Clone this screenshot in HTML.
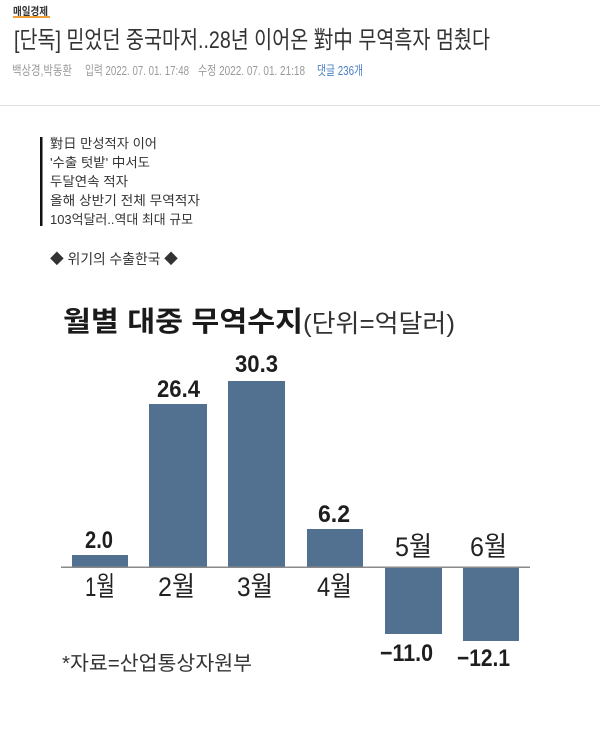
<!DOCTYPE html>
<html><head><meta charset="utf-8"><style>
html,body{margin:0;padding:0;background:#fff;}
svg{display:block;}
</style></head><body>
<svg width="600" height="729" viewBox="0 0 600 729" xmlns="http://www.w3.org/2000/svg" font-family="'Liberation Sans','Noto Sans CJK KR',sans-serif">
<rect width="600" height="729" fill="#fff"/>
<!-- header -->
<text x="13" y="15" font-size="11" font-weight="bold" fill="#333" textLength="35" lengthAdjust="spacingAndGlyphs">매일경제</text>
<rect x="13" y="16" width="37" height="2" fill="#f0a03a"/>
<text x="14" y="48" font-size="24" fill="#333" textLength="476" lengthAdjust="spacingAndGlyphs">[단독] 믿었던 중국마저..28년 이어온 對中 무역흑자 멈췄다</text>
<g font-size="13" fill="#9a9a9a">
<text x="12" y="75" textLength="60" lengthAdjust="spacingAndGlyphs">백상경,박동환</text>
<text x="85" y="75" textLength="104" lengthAdjust="spacingAndGlyphs">입력 2022. 07. 01. 17:48</text>
<text x="198" y="75" textLength="107" lengthAdjust="spacingAndGlyphs">수정 2022. 07. 01. 21:18</text>
<text x="317" y="75" fill="#4a7fc6" textLength="46" lengthAdjust="spacingAndGlyphs">댓글 236개</text>
</g>
<rect x="0" y="105" width="600" height="1" fill="#e3e3e3"/>
<!-- left block -->
<rect x="40" y="137" width="2.5" height="89" fill="#111"/>
<g font-size="13" fill="#333">
<text x="50" y="148" textLength="107" lengthAdjust="spacingAndGlyphs">對日 만성적자 이어</text>
<text x="50" y="167" textLength="100" lengthAdjust="spacingAndGlyphs">'수출 텃밭' 中서도</text>
<text x="50" y="186" textLength="78" lengthAdjust="spacingAndGlyphs">두달연속 적자</text>
<text x="50" y="205" textLength="150" lengthAdjust="spacingAndGlyphs">올해 상반기 전체 무역적자</text>
<text x="50" y="224" textLength="143" lengthAdjust="spacingAndGlyphs">103억달러..역대 최대 규모</text>
</g>
<text x="50" y="264" font-size="14" fill="#333" textLength="128" lengthAdjust="spacingAndGlyphs">◆ 위기의 수출한국 ◆</text>
<!-- chart title -->
<text x="63" y="331" font-size="28" font-weight="bold" fill="#1a1a1a" textLength="240" lengthAdjust="spacingAndGlyphs">월별 대중 무역수지</text>
<text x="303" y="332" font-size="25" fill="#333" textLength="152" lengthAdjust="spacingAndGlyphs">(단위=억달러)</text>
<!-- bars -->
<g fill="#52708f">
<rect x="72" y="555" width="56" height="12"/>
<rect x="149" y="404" width="58" height="163"/>
<rect x="228" y="381" width="57" height="186"/>
<rect x="307" y="529" width="56" height="38"/>
<rect x="385" y="567" width="57" height="67"/>
<rect x="463" y="567" width="56" height="74"/>
</g>
<rect x="61" y="566.5" width="469" height="1.5" fill="#8a8a8a"/>
<!-- values -->
<g font-size="24" font-weight="bold" fill="#1e1e1e" font-family="'Liberation Sans',sans-serif">
<text x="85" y="548" textLength="28" lengthAdjust="spacingAndGlyphs">2.0</text>
<text x="157" y="397" textLength="43" lengthAdjust="spacingAndGlyphs">26.4</text>
<text x="235" y="372" textLength="43" lengthAdjust="spacingAndGlyphs">30.3</text>
<text x="318" y="522" textLength="32" lengthAdjust="spacingAndGlyphs">6.2</text>
<text x="380" y="661" textLength="53" lengthAdjust="spacingAndGlyphs">−11.0</text>
<text x="457" y="666" textLength="53" lengthAdjust="spacingAndGlyphs">−12.1</text>
</g>
<!-- months -->
<g font-size="27" fill="#222">
<text x="85" y="596" textLength="30" lengthAdjust="spacingAndGlyphs">1월</text>
<text x="158" y="596" textLength="37" lengthAdjust="spacingAndGlyphs">2월</text>
<text x="237" y="596" textLength="36" lengthAdjust="spacingAndGlyphs">3월</text>
<text x="317" y="596" textLength="35" lengthAdjust="spacingAndGlyphs">4월</text>
<text x="395" y="556" textLength="37" lengthAdjust="spacingAndGlyphs">5월</text>
<text x="470" y="556" textLength="37" lengthAdjust="spacingAndGlyphs">6월</text>
</g>
<text x="62" y="670" font-size="20" fill="#333" textLength="190" lengthAdjust="spacingAndGlyphs">*자료=산업통상자원부</text>
</svg>
</body></html>
